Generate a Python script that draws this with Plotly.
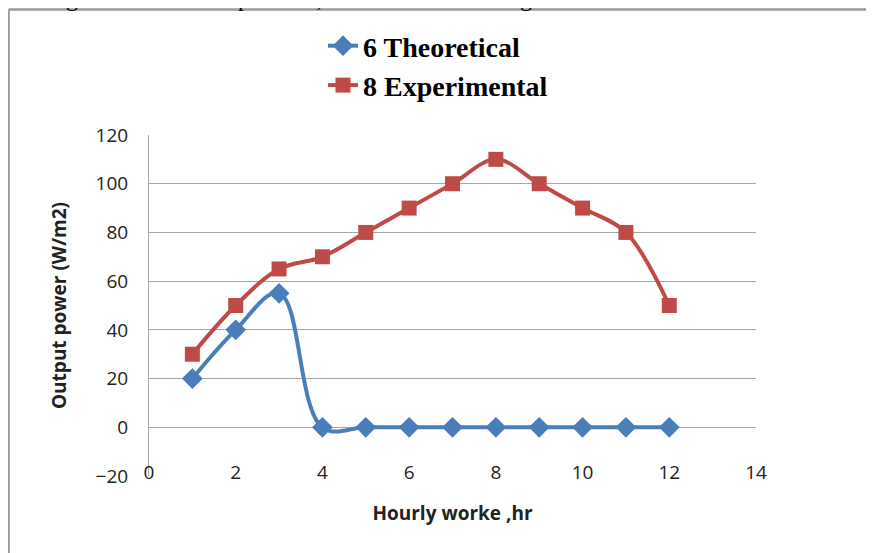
import plotly.graph_objects as go

# Data
hours = [1, 2, 3, 4, 5, 6, 7, 8, 9, 10, 11, 12]
theoretical = [20, 40, 55, 0, 0, 0, 0, 0, 0, 0, 0, 0]
experimental = [30, 50, 65, 70, 80, 90, 100, 110, 100, 90, 80, 50]

blue = '#4A7EBB'
red = '#BE4B48'

fig = go.Figure()
fig.add_trace(go.Scatter(x=hours, y=theoretical, name='6 Theoretical',
                         mode='lines+markers', legendgroup='a',
                         line=dict(color=blue, width=4, shape='spline', smoothing=1.1),
                         marker=dict(symbol='diamond', size=16, color=blue)))
fig.add_trace(go.Scatter(x=hours, y=experimental, name='8 Experimental',
                         mode='lines+markers', legendgroup='b',
                         line=dict(color=red, width=4, shape='spline', smoothing=1.0),
                         marker=dict(symbol='square', size=15, color=red)))

# the page body adds 8px, so work in figure pixels = page pixels - 8
OFF = 8
L, R, T, B = 149 - OFF, 756 - OFF, 135 - OFF, 476 - OFF
W, H = R - L, B - T
def px(x):
    return (x - OFF - L) / W
def py(y):
    return (B - (y - OFF)) / H

fig.update_layout(
    width=874, height=553,
    margin=dict(l=L, r=874 - R, t=T, b=553 - B),
    paper_bgcolor='white', plot_bgcolor='white',
    font=dict(family='Open Sans', color='#222222'),
    showlegend=True,
    legend=dict(x=px(323), y=py(21), xanchor='left', yanchor='top',
                traceorder='grouped', tracegroupgap=0,
                font=dict(family='Liberation Serif', size=28, color='black', weight='bold'),
                bgcolor='rgba(0,0,0,0)'),
    xaxis=dict(range=[0, 14], dtick=2, tick0=0, showgrid=False, zeroline=False,
               showline=False, anchor='free', position=0.05,
               tickfont=dict(size=19, color='#222222'),
               title=dict(text='<b>Hourly worke ,hr</b>', standoff=22,
                          font=dict(size=19, color='#222222'))),
    yaxis=dict(range=[-20, 120], dtick=20, tick0=-20, showgrid=True,
               gridcolor='#A6A6A6', gridwidth=1, zeroline=False,
               showline=True, linecolor='#A6A6A6', linewidth=1,
               ticks='', ticklabelstandoff=16,
               tickfont=dict(size=19, color='#222222'),
               title=dict(text='<b>Output power (W/m2)</b>', standoff=23,
                          font=dict(size=19, color='#222222'))),
)

# page border of the embedded figure
fig.add_shape(type='line', xref='paper', yref='paper',
              x0=px(8.5), x1=px(900), y0=py(9.5), y1=py(9.5),
              line=dict(color='#999999', width=2.5))
fig.add_shape(type='line', xref='paper', yref='paper',
              x0=px(8.5), x1=px(8.5), y0=py(9.5), y1=py(600),
              line=dict(color='#999999', width=2.5))

# cut-off sentence from the surrounding document
fig.add_annotation(text='at the eighth hour of the operation, as is shown in the figure.',
                   xref='paper', yref='paper', x=px(-12), y=py(13),
                   xanchor='left', yanchor='bottom', showarrow=False,
                   font=dict(family='Liberation Serif', size=24, color='black'))

fig.write_html('out.html')
